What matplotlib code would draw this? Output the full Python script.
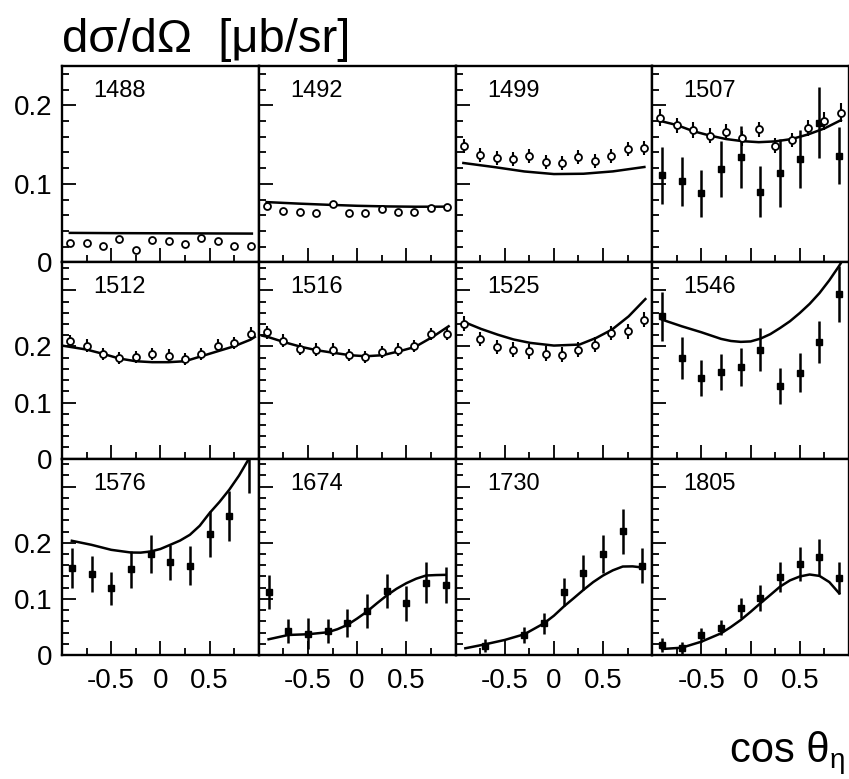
import numpy as np
import matplotlib
matplotlib.use("Agg")
import matplotlib.pyplot as plt
from matplotlib.ticker import FixedLocator, FixedFormatter, MultipleLocator

plt.rcParams['font.family'] = ['Liberation Sans', 'DejaVu Sans']

# angular bins
bins12 = [-0.917, -0.75, -0.583, -0.417, -0.25, -0.083, 0.083, 0.25, 0.417, 0.583, 0.75, 0.917]
bins10 = [-0.9, -0.7, -0.5, -0.3, -0.1, 0.1, 0.3, 0.5, 0.7, 0.9]

energies = ["1488", "1492", "1499", "1507",
            "1512", "1516", "1525", "1546",
            "1576", "1674", "1730", "1805"]

# ---- open circles (high-statistics data set) ----
circ_1488 = [0.0247, 0.0247, 0.0205, 0.0291, 0.0154, 0.0282, 0.0274, 0.0235, 0.0304, 0.0274, 0.0209, 0.0214]
circ_1488_err = [0.003] * 12
circ_1492 = [0.0722, 0.0654, 0.0641, 0.0628, 0.074, 0.0632, 0.0628, 0.068, 0.0641, 0.0645, 0.0696, 0.0705]
circ_1492_err = [0.004] * 12
circ_1499 = [0.1479, 0.1363, 0.1325, 0.1312, 0.135, 0.1273, 0.1269, 0.1346, 0.1286, 0.1359, 0.1444, 0.1457]
circ_1499_err = [0.009] * 12
circ_1507 = [0.1842, 0.1744, 0.1684, 0.1615, 0.1658, 0.1577, 0.1692, 0.1487, 0.1555, 0.1714, 0.1799, 0.1906]
circ_1507_err = [0.011, 0.010, 0.010, 0.010, 0.010, 0.010, 0.010, 0.010, 0.009, 0.010, 0.011, 0.012]
circ_1512 = [0.2092, 0.2016, 0.1869, 0.179, 0.1808, 0.1869, 0.1838, 0.178, 0.1862, 0.2016, 0.2064, 0.2229]
circ_1512_err = [0.011] * 12
circ_1516 = [0.2252, 0.2105, 0.1957, 0.1945, 0.1945, 0.1851, 0.1808, 0.1897, 0.1945, 0.2004, 0.2224, 0.2229]
circ_1516_err = [0.011] * 12
circ_1525 = [0.2407, 0.2135, 0.1993, 0.1945, 0.1915, 0.1874, 0.1856, 0.1945, 0.2034, 0.2241, 0.2270, 0.2478]
circ_1525_err = [0.013] * 12

# ---- filled squares (second data set) ----
sq_1507 = [0.1107, 0.1030, 0.0881, 0.1188, 0.1342, 0.0901, 0.1137, 0.1312, 0.1778, 0.1359]
sq_1507_err = [0.036, 0.031, 0.030, 0.036, 0.039, 0.032, 0.043, 0.037, 0.045, 0.036]
sq_1546 = [0.2536, 0.1797, 0.143, 0.1542, 0.1631, 0.1945, 0.1293, 0.1531, 0.2082, 0.2934]
sq_1546_err = [0.044, 0.037, 0.032, 0.032, 0.034, 0.038, 0.032, 0.035, 0.038, 0.050]
sq_1576 = [0.1548, 0.1446, 0.119, 0.153, 0.1804, 0.1649, 0.1595, 0.216, 0.248, 0.36]
sq_1576_err = [0.036, 0.032, 0.029, 0.033, 0.034, 0.032, 0.034, 0.041, 0.044, 0.071]
sq_1674 = [0.112, 0.0429, 0.038, 0.0429, 0.0565, 0.0786, 0.1143, 0.0923, 0.1292, 0.125]
sq_1674_err = [0.030, 0.022, 0.028, 0.022, 0.025, 0.031, 0.030, 0.031, 0.037, 0.032]
sq_1730_x = [-0.7, -0.3, -0.1, 0.1, 0.3, 0.5, 0.7, 0.9]
sq_1730 = [0.0167, 0.0357, 0.0565, 0.112, 0.147, 0.1798, 0.2202, 0.1595]
sq_1730_err = [0.012, 0.015, 0.019, 0.025, 0.031, 0.034, 0.040, 0.031]
sq_1805 = [0.0179, 0.012, 0.0357, 0.0488, 0.0833, 0.1012, 0.1393, 0.1625, 0.175, 0.137]
sq_1805_err = [0.012, 0.011, 0.0125, 0.013, 0.018, 0.023, 0.027, 0.030, 0.032, 0.028]

# ---- model curves ----
curve_1488_x = [-0.92, -0.5, 0.0, 0.5, 0.93]
curve_1488_y = [0.0375, 0.0372, 0.037, 0.0368, 0.0366]
curve_1492_x = [-0.92, -0.6, -0.3, 0.0, 0.3, 0.6, 0.92]
curve_1492_y = [0.0767, 0.0748, 0.0733, 0.072, 0.0712, 0.0708, 0.0709]
curve_1499_x = [-0.92, -0.6, -0.3, 0.0, 0.3, 0.6, 0.92]
curve_1499_y = [0.1265, 0.1212, 0.1157, 0.1124, 0.1128, 0.1158, 0.1214]
curve_1507_x = bins12
curve_1507_y = [0.180, 0.1748, 0.167, 0.1615, 0.157, 0.1543, 0.153, 0.154, 0.157, 0.1628, 0.1705, 0.181]
curve_1512_x = [-1.0, -0.75, -0.583, -0.417, -0.25, -0.083, 0.083, 0.25, 0.417, 0.583, 0.75, 0.917, 0.96]
curve_1512_y = [0.2016, 0.1945, 0.1869, 0.1785, 0.1737, 0.172, 0.172, 0.1737, 0.1826, 0.1915, 0.2004, 0.2122, 0.217]
curve_1516_x = [-0.967, -0.907, -0.737, -0.568, -0.41, -0.236, -0.07, 0.09, 0.256, 0.43, 0.59, 0.767, 0.93]
curve_1516_y = [0.2194, 0.217, 0.2075, 0.1993, 0.1933, 0.1886, 0.1844, 0.1826, 0.1844, 0.1915, 0.1993, 0.217, 0.236]
curve_1525_x = [-0.89, -0.74, -0.57, -0.41, -0.24, 0.0, 0.26, 0.43, 0.59, 0.76, 0.93]
curve_1525_y = [0.242, 0.2313, 0.221, 0.2125, 0.2064, 0.2016, 0.2034, 0.2153, 0.23, 0.2537, 0.2845]
curve_1546_x = [-0.9, -0.7, -0.5, -0.3, -0.2, -0.1, 0.0, 0.1, 0.2, 0.3, 0.4, 0.5, 0.6, 0.7, 0.8, 0.9, 0.925]
curve_1546_y = [0.2478, 0.236, 0.2253, 0.2135, 0.2098, 0.2082, 0.209, 0.214, 0.222, 0.233, 0.245, 0.2597, 0.276, 0.2952,
                0.318, 0.3437, 0.351]
curve_1576_x = [-0.9, -0.7, -0.5, -0.3, -0.2, -0.1, 0.0, 0.1, 0.2, 0.3, 0.4, 0.5, 0.6, 0.7, 0.8, 0.9]
curve_1576_y = [0.2036, 0.1964, 0.1875, 0.1827, 0.1825, 0.1845, 0.189, 0.1964, 0.204, 0.2143, 0.2304, 0.253, 0.2727,
                0.2946, 0.32, 0.35]
curve_1674_x = [-0.9, -0.7, -0.5, -0.3, -0.2, -0.1, 0.0, 0.1, 0.2, 0.3, 0.4, 0.5, 0.6, 0.7, 0.8, 0.9]
curve_1674_y = [0.028, 0.0357, 0.037, 0.0405, 0.046, 0.0536, 0.065, 0.0774, 0.092, 0.106, 0.118, 0.128, 0.136, 0.1417,
                0.1425, 0.1429]
curve_1730_x = [-0.9, -0.7, -0.5, -0.3, -0.1, 0.0, 0.1, 0.2, 0.3, 0.4, 0.5, 0.6, 0.7, 0.8, 0.9]
curve_1730_y = [0.012, 0.019, 0.0268, 0.037, 0.0565, 0.07, 0.0863, 0.101, 0.116, 0.13, 0.1417, 0.151, 0.1577, 0.158,
                0.156]
curve_1805_x = [-0.9, -0.7, -0.5, -0.3, -0.2, -0.1, 0.0, 0.1, 0.2, 0.3, 0.4, 0.5, 0.6, 0.7, 0.8, 0.9]
curve_1805_y = [0.0107, 0.013, 0.0238, 0.0387, 0.05, 0.0625, 0.077, 0.0923, 0.107, 0.122, 0.133, 0.14, 0.1435, 0.141,
                0.13, 0.110]

circles = {
    "1488": (bins12, circ_1488, circ_1488_err),
    "1492": (bins12, circ_1492, circ_1492_err),
    "1499": (bins12, circ_1499, circ_1499_err),
    "1507": (bins12, circ_1507, circ_1507_err),
    "1512": (bins12, circ_1512, circ_1512_err),
    "1516": (bins12, circ_1516, circ_1516_err),
    "1525": (bins12, circ_1525, circ_1525_err),
}
squares = {
    "1507": (bins10, sq_1507, sq_1507_err),
    "1546": (bins10, sq_1546, sq_1546_err),
    "1576": (bins10, sq_1576, sq_1576_err),
    "1674": (bins10, sq_1674, sq_1674_err),
    "1730": (sq_1730_x, sq_1730, sq_1730_err),
    "1805": (bins10, sq_1805, sq_1805_err),
}
curves = {
    "1488": (curve_1488_x, curve_1488_y),
    "1492": (curve_1492_x, curve_1492_y),
    "1499": (curve_1499_x, curve_1499_y),
    "1507": (curve_1507_x, curve_1507_y),
    "1512": (curve_1512_x, curve_1512_y),
    "1516": (curve_1516_x, curve_1516_y),
    "1525": (curve_1525_x, curve_1525_y),
    "1546": (curve_1546_x, curve_1546_y),
    "1576": (curve_1576_x, curve_1576_y),
    "1674": (curve_1674_x, curve_1674_y),
    "1730": (curve_1730_x, curve_1730_y),
    "1805": (curve_1805_x, curve_1805_y),
}

row_ymax = [0.25, 0.35, 0.35]
W, H = 849, 779

fig = plt.figure(figsize=(W / 100, H / 100), dpi=100)
axes = fig.subplots(3, 4)
fig.subplots_adjust(left=62 / W, right=1.0, bottom=1 - 655 / H, top=1 - 66 / H,
                    wspace=0, hspace=0)

for idx, key in enumerate(energies):
    r, c = divmod(idx, 4)
    ax = axes[r, c]
    ax.set_xlim(-1, 1)
    ax.set_ylim(0, row_ymax[r])

    if key in curves:
        cx, cy = curves[key]
        ax.plot(cx, cy, color='black', lw=1.8, zorder=3, solid_joinstyle='round')
    if key in squares:
        sx, sy, se = squares[key]
        ax.errorbar(sx, sy, yerr=se, fmt='none', ecolor='black', elinewidth=1.8,
                    capsize=0, zorder=2)
        ax.plot(sx, sy, 's', color='black', ms=5, zorder=4)
    if key in circles:
        ox, oy, oe = circles[key]
        ax.errorbar(ox, oy, yerr=oe, fmt='none', ecolor='black', elinewidth=1.5,
                    capsize=0, zorder=4)
        ax.plot(ox, oy, 'o', mfc='white', mec='black', mew=1.3, ms=5, zorder=5)

    ax.text(0.16, 0.842, key, transform=ax.transAxes, fontsize=17,
            ha='left', va='baseline')

    # ticks
    ax.xaxis.set_major_locator(FixedLocator([-0.5, 0, 0.5]))
    ax.xaxis.set_minor_locator(FixedLocator([-0.75, -0.25, 0.25, 0.75]))
    if r == 2:
        ax.xaxis.set_major_formatter(FixedFormatter(['-0.5', '0', '0.5']))
    else:
        ax.xaxis.set_major_formatter(FixedFormatter(['', '', '']))

    ymaj = [0, 0.1, 0.2] if r == 0 else [0, 0.1, 0.2, 0.3]
    ax.yaxis.set_major_locator(FixedLocator(ymaj))
    ax.yaxis.set_minor_locator(MultipleLocator(0.02))
    if c == 0:
        labels = ['0', '0.1', '0.2'] + ([''] if r > 0 else [])
    else:
        labels = [''] * len(ymaj)
    ax.yaxis.set_major_formatter(FixedFormatter(labels))

    ax.tick_params(which='both', direction='in', top=False, right=False,
                   labelsize=20, width=1.3)
    ax.tick_params(which='major', length=10)
    ax.tick_params(which='minor', length=5)
    ax.tick_params(axis='y', pad=7)
    ax.tick_params(axis='x', pad=9)
    for sp in ax.spines.values():
        sp.set_linewidth(1.7)

fig.text(62 / W, 1 - 52 / H, 'dσ/dΩ  [μb/sr]', fontsize=34, ha='left', va='baseline')
fig.text(829 / W, 1 - 762 / H, 'cos θ', fontsize=30, ha='right', va='baseline')
fig.text(830 / W, 1 - 768 / H, 'η', fontsize=20, ha='left', va='baseline')

fig.savefig('out.png', dpi=100)
